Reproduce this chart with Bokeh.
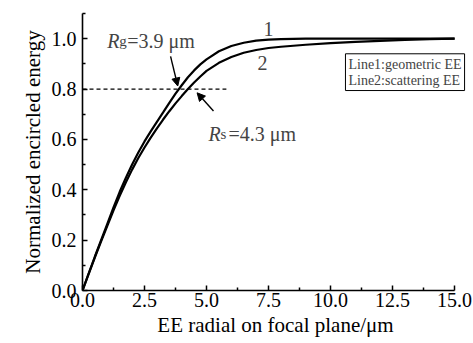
from bokeh.plotting import figure
from bokeh.models import Range1d, FixedTicker, Label, Arrow, NormalHead, ColumnDataSource
from bokeh.embed import file_html
from bokeh.resources import INLINE

# Data
radius = [0, 0.25, 0.5, 0.75, 1.0, 1.25, 1.5, 1.75, 2.0, 2.25, 2.5, 2.75, 3.0, 3.25,
          3.5, 3.75, 4.0, 4.25, 4.5, 4.75, 5.0, 5.5, 6.0, 6.5, 7.0, 7.5, 8.0, 9.0,
          10.0, 11.0, 12.0, 13.0, 14.0, 15.0]
geometric_ee = [0, 0.068, 0.135, 0.200, 0.265, 0.330, 0.392, 0.448, 0.500, 0.548,
                0.592, 0.632, 0.670, 0.707, 0.745, 0.782, 0.815, 0.847, 0.874, 0.898,
                0.918, 0.950, 0.971, 0.984, 0.992, 0.996, 0.998, 1.0, 1.0, 1.0, 1.0,
                1.0, 1.0, 1.0]
scattering_ee = [0, 0.066, 0.132, 0.195, 0.257, 0.318, 0.376, 0.430, 0.480, 0.526,
                 0.568, 0.607, 0.644, 0.679, 0.712, 0.743, 0.772, 0.800, 0.826, 0.850,
                 0.872, 0.904, 0.927, 0.944, 0.955, 0.963, 0.968, 0.976, 0.982, 0.987,
                 0.991, 0.995, 0.998, 1.0]
x_ticks = [0, 2.5, 5.0, 7.5, 10.0, 12.5, 15.0]
x_minor = [1.25, 3.75, 6.25, 8.75, 11.25, 13.75]
y_ticks = [0, 0.2, 0.4, 0.6, 0.8, 1.0]
y_minor = [0.1, 0.3, 0.5, 0.7, 0.9, 1.1]
threshold = 0.8
rg_value = 3.9
rs_value = 4.3

FONT = "Liberation Serif"

# frame extends a little past x=15 so the note box can overhang the axis end
p = figure(width=473, height=343, output_backend="svg", toolbar_location=None,
           x_range=Range1d(0, 15.56), y_range=Range1d(0, 1.1),
           min_border_left=82, min_border_right=5, min_border_top=13, min_border_bottom=53)
p.outline_line_color = None
p.xgrid.visible = False
p.ygrid.visible = False
p.background_fill_color = "white"
p.border_fill_color = "white"

for ax in (p.xaxis[0], p.yaxis[0]):
    ax.axis_line_width = 1.6
    ax.axis_line_color = "black"
    ax.major_tick_in = 5
    ax.major_tick_out = 0
    ax.minor_tick_in = 3
    ax.minor_tick_out = 0
    ax.major_tick_line_width = 1.5
    ax.minor_tick_line_width = 1.5
    ax.major_tick_line_color = "black"
    ax.minor_tick_line_color = "black"
    ax.major_label_text_font = FONT
    ax.major_label_text_font_size = "20px"
    ax.major_label_text_color = "black"
    ax.axis_label_text_font = FONT
    ax.axis_label_text_font_size = "21px"
    ax.axis_label_text_font_style = "normal"
    ax.axis_label_text_color = "black"

p.xaxis[0].bounds = (0, 15)
p.xaxis[0].ticker = FixedTicker(ticks=x_ticks, minor_ticks=x_minor)
p.yaxis[0].ticker = FixedTicker(ticks=y_ticks, minor_ticks=y_minor)
p.xaxis[0].major_label_overrides = {t: f"{t:.1f}" for t in x_ticks}
p.yaxis[0].major_label_overrides = {t: f"{t:.1f}" for t in y_ticks}
p.xaxis[0].major_label_standoff = 2
p.yaxis[0].major_label_standoff = 6
p.xaxis[0].axis_label = "EE radial on focal plane/\u03bcm"
p.yaxis[0].axis_label = "Normalized encircled energy"
p.xaxis[0].axis_label_standoff = 3
p.yaxis[0].axis_label_standoff = 4

src = ColumnDataSource(dict(r=radius, g=geometric_ee, s=scattering_ee))
p.line("r", "g", source=src, line_color="black", line_width=2.2)
p.line("r", "s", source=src, line_color="black", line_width=2.2)

# threshold dashed line
p.line([0, 5.8], [threshold, threshold], line_color="black", line_width=1.2, line_dash="4 3")

# curve numbers
p.add_layout(Label(x=7.5, y=1.04, text="1", text_font=FONT, text_font_size="20px",
                   text_align="center", text_baseline="middle"))
p.add_layout(Label(x=7.26, y=0.905, text="2", text_font=FONT, text_font_size="20px",
                   text_align="center", text_baseline="middle"))

# Rg annotation
p.add_layout(Label(x=1.0, y=0.99, text="R", text_font=FONT, text_font_size="20px",
                   text_font_style="italic", text_baseline="alphabetic"))
p.add_layout(Label(x=1.0, y=0.99, x_offset=12, text="g", text_font=FONT, text_font_size="15px",
                   text_baseline="alphabetic"))
p.add_layout(Label(x=1.0, y=0.99, x_offset=20, text=f"={rg_value} \u03bcm", text_font=FONT,
                   text_font_size="20px", text_baseline="alphabetic"))
p.add_layout(Arrow(x_start=3.55, y_start=0.93, x_end=3.84, y_end=0.812, line_width=1.4,
                   end=NormalHead(size=8, fill_color="black", line_color="black")))

# Rs annotation
p.add_layout(Label(x=5.08, y=0.62, text="R", text_font=FONT, text_font_size="20px",
                   text_font_style="italic", text_baseline="alphabetic"))
p.add_layout(Label(x=5.08, y=0.62, x_offset=12, text="s", text_font=FONT, text_font_size="15px",
                   text_baseline="alphabetic"))
p.add_layout(Label(x=5.08, y=0.62, x_offset=20, text=f"={rs_value} \u03bcm", text_font=FONT,
                   text_font_size="20px", text_baseline="alphabetic"))
p.add_layout(Arrow(x_start=5.28, y_start=0.713, x_end=4.62, y_end=0.785, line_width=1.4,
                   end=NormalHead(size=8, fill_color="black", line_color="black")))

# note box
p.add_layout(Label(x=10.6, y=0.94, text="Line1:geometric EE\nLine2:scattering EE",
                   text_font=FONT, text_font_size="14px", text_align="left",
                   text_baseline="top", text_line_height=1.05,
                   border_line_color="black", border_line_width=1,
                   background_fill_color="white", padding=3))

open("out.html", "w").write(file_html(p, INLINE))
